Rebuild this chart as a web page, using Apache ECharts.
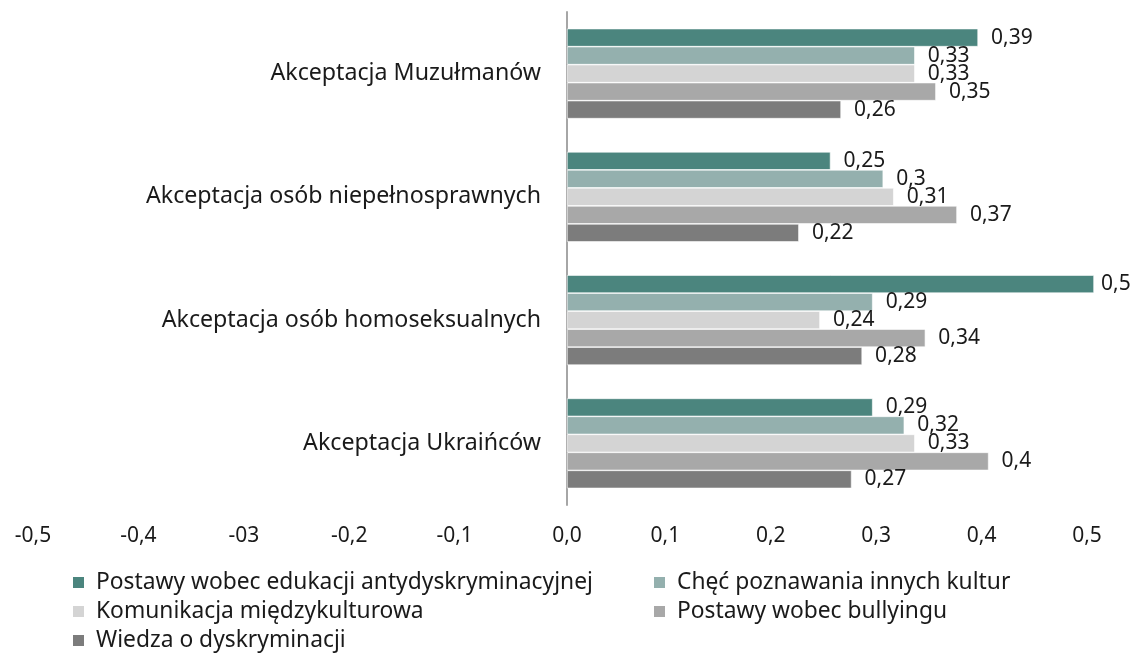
<!DOCTYPE html>
<html>
<head>
<meta charset="utf-8">
<script src="https://cdn.jsdelivr.net/npm/echarts@6/dist/echarts.min.js"></script>
<style>html,body{margin:0;padding:0;background:#fff}#c{width:1133px;height:653px}</style>
</head>
<body>
<div id="c"></div>
<script>
const categories = ['Akceptacja Muzułmanów', 'Akceptacja osób niepełnosprawnych', 'Akceptacja osób homoseksualnych', 'Akceptacja Ukraińców'];
const seriesNames = ['Postawy wobec edukacji antydyskryminacyjnej', 'Chęć poznawania innych kultur', 'Komunikacja międzykulturowa', 'Postawy wobec bullyingu', 'Wiedza o dyskryminacji'];
const edukacja = [0.39, 0.25, 0.5, 0.29];
const checPoznawania = [0.33, 0.3, 0.29, 0.32];
const komunikacja = [0.33, 0.31, 0.24, 0.33];
const bullying = [0.35, 0.37, 0.34, 0.4];
const wiedza = [0.26, 0.22, 0.28, 0.27];
const tickLabels = ['-0,5', '-0,4', '-03', '-0,2', '-0,1', '0,0', '0,1', '0,2', '0,3', '0,4', '0,5'];
const colors = ['#4b857e', '#94b0ae', '#d4d4d4', '#a8a8a8', '#7c7c7c'];

const FONT = 'Noto Sans';
const allData = [edukacja, checPoznawania, komunikacja, bullying, wiedza];

const chart = echarts.init(document.getElementById('c'), null, {renderer: 'canvas'});

const series = seriesNames.map((name, i) => ({
  name: name,
  type: 'bar',
  data: allData[i].map(v => v >= 0.5 ? {value: v, label: {distance: 7}} : v),
  barWidth: 18,
  barGap: '0%',
  itemStyle: {color: colors[i], borderColor: '#fff', borderWidth: 0.6},
  label: {
    show: true,
    position: 'right',
    distance: 13,
    fontFamily: FONT,
    fontSize: 21,
    color: '#1a1a1a',
    formatter: p => String(p.value).replace('.', ',')
  }
}));

const legendPos = [
  {left: 66, top: 566},
  {left: 647, top: 566},
  {left: 66, top: 595},
  {left: 647, top: 595},
  {left: 66, top: 624}
];
const legends = seriesNames.map((n, i) => ({
  data: [n],
  left: legendPos[i].left,
  top: legendPos[i].top,
  icon: 'rect',
  itemWidth: 13,
  itemHeight: 13,
  selectedMode: false,
  textStyle: {fontFamily: FONT, fontSize: 22.8, color: '#1a1a1a', padding: [0, 0, 0, 6]}
}));

chart.setOption({
  animation: false,
  color: colors,
  legend: legends,
  grid: {left: 40, right: 39, top: 12, bottom: 148, containLabel: false, outerBoundsMode: 'none'},
  xAxis: {
    type: 'value',
    min: -0.5,
    max: 0.5,
    interval: 0.1,
    splitLine: {show: false},
    axisLine: {show: false},
    axisTick: {show: false},
    axisLabel: {
      margin: 21,
      formatter: (v) => {
        const idx = Math.round((v + 0.5) * 10);
        const t = tickLabels[idx];
        return idx === 5 ? '{z|' + t + '}' : '{s|' + t + '}';
      },
      rich: {
        z: {fontFamily: FONT, fontSize: 21, color: '#1a1a1a'},
        s: {fontFamily: FONT, fontSize: 21, color: '#1a1a1a', padding: [0, 14, 0, 0]}
      }
    }
  },
  yAxis: {
    type: 'category',
    data: categories,
    inverse: true,
    axisLine: {show: true, onZero: true, lineStyle: {color: '#a6a6a6', width: 2}},
    axisTick: {show: false},
    axisLabel: {inside: true, margin: 501, align: 'right', fontFamily: FONT, fontSize: 23.2, color: '#1a1a1a'}
  },
  series: series
});
</script>
</body>
</html>
